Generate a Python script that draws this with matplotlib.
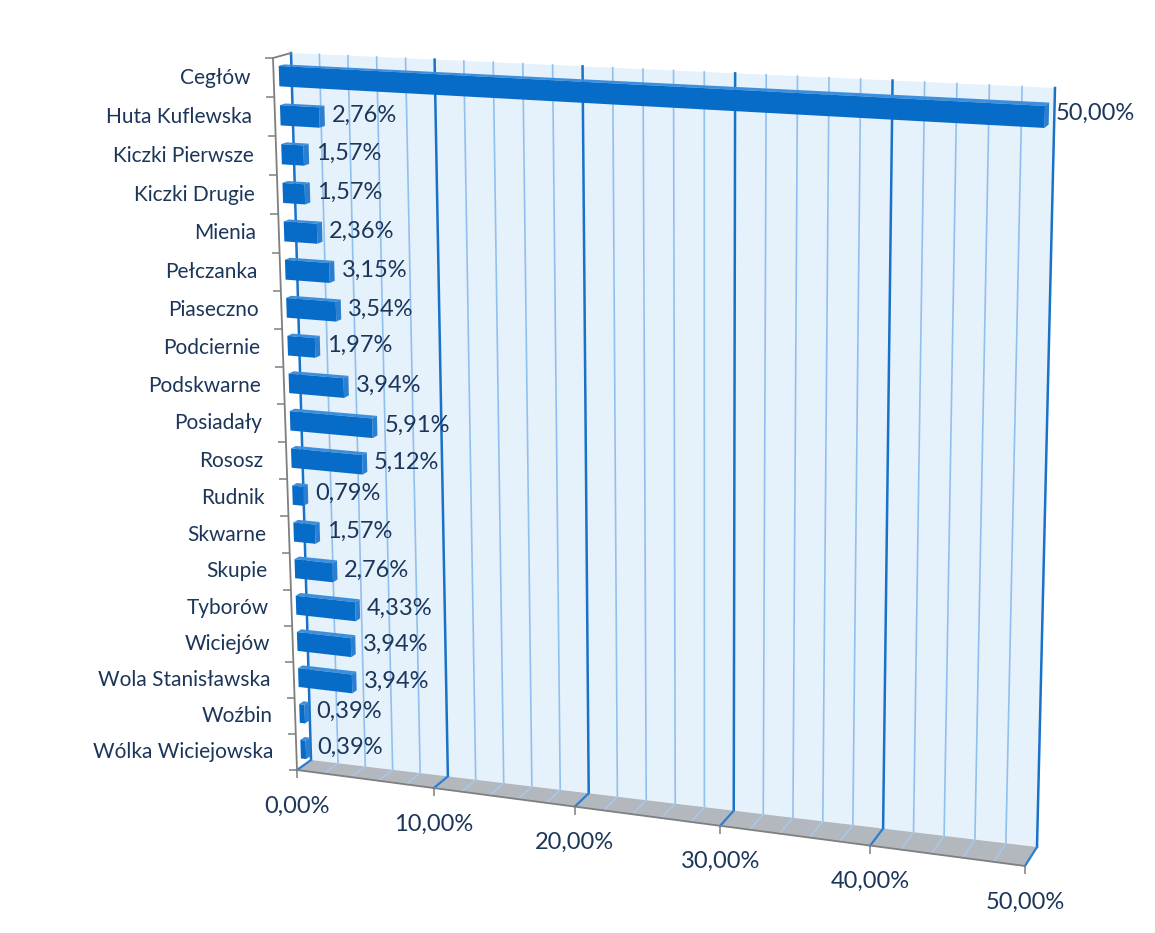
import numpy as np
import matplotlib
matplotlib.use("Agg")
import matplotlib.pyplot as plt
from matplotlib.transforms import Transform, Affine2D
from matplotlib.patches import Polygon
from matplotlib import markers

# data
places = ["Cegłów", "Huta Kuflewska", "Kiczki Pierwsze", "Kiczki Drugie", "Mienia",
          "Pełczanka", "Piaseczno", "Podciernie", "Podskwarne", "Posiadały", "Rososz",
          "Rudnik", "Skwarne", "Skupie", "Tyborów", "Wiciejów", "Wola Stanisławska",
          "Woźbin", "Wólka Wiciejowska"]
shares = [50.00, 2.76, 1.57, 1.57, 2.36, 3.15, 3.54, 1.97, 3.94, 5.91, 5.12,
          0.79, 1.57, 2.76, 4.33, 3.94, 3.94, 0.39, 0.39]
xticks = [0, 10, 20, 30, 40, 50]


def pct(v):
    return f"{v:.2f}".replace(".", ",") + "%"


# perspective box: pixel corners of front and back plane (TL, TR, BR, BL)
FRONT = [(273, 58), (1041, 99), (1025, 866), (297, 770)]
BACK = [(291, 53), (1055, 88), (1037, 847), (311, 760)]
NROWS = len(places)
VMAX = 50


def homography(dst):
    src = [(0, NROWS), (VMAX, NROWS), (VMAX, 0), (0, 0)]
    A, b = [], []
    for (x, y), (X, Y) in zip(src, dst):
        A.append([x, y, 1, 0, 0, 0, -X * x, -X * y]); b.append(X)
        A.append([0, 0, 0, x, y, 1, -Y * x, -Y * y]); b.append(Y)
    h = np.linalg.solve(np.array(A, float), np.array(b, float))
    return np.append(h, 1).reshape(3, 3)


HF = homography(FRONT)
HB = homography(BACK)


def project(v, u, z):
    hom = np.column_stack([v, u, np.ones(len(v))])
    res = []
    for H in (HF, HB):
        q = hom @ H.T
        res.append(q[:, :2] / q[:, 2:3])
    return (1 - z)[:, None] * res[0] + z[:, None] * res[1]


class Proj(Transform):
    # maps two of (value, row, depth) to pixels, the third one held fixed
    input_dims = output_dims = 2

    def __init__(self, fixed, val):
        super().__init__()
        self.fixed = fixed
        self.val = val

    def transform_non_affine(self, pts):
        pts = np.asarray(pts, float).reshape(-1, 2)
        c = np.full(len(pts), float(self.val))
        a, b = pts[:, 0], pts[:, 1]
        if self.fixed == "z":
            return project(a, b, c)
        if self.fixed == "u":
            return project(a, c, b)
        return project(c, a, b)


fig = plt.figure(figsize=(11.55, 9.33), dpi=100)
ax = fig.add_axes([0, 0, 1, 1])
ax.set_xlim(0, 1155)
ax.set_ylim(933, 0)
ax.axis("off")


def T(fixed, val, dx=0, dy=0):
    return Proj(fixed, val) + ax.transData + Affine2D().translate(dx, dy)


TXT = "#1c365a"
FONT = "Lato"

# back wall
ax.add_patch(Polygon([(0, 0), (VMAX, 0), (VMAX, NROWS), (0, NROWS)], closed=True,
                     transform=T("z", 1), fc="#e5f1fb", ec="none", zorder=1))
for v in range(0, VMAX + 1, 2):
    major = v % 10 == 0
    ax.plot([v, v], [0, NROWS], transform=T("z", 1), color="#1a72c8" if major else "#92c0ee",
            lw=1.8 if major else 1.2, zorder=2)

# floor
ax.add_patch(Polygon([(0, 0), (VMAX, 0), (VMAX, 1), (0, 1)], closed=True,
                     transform=T("u", 0), fc="#b3b7be", ec="none", zorder=3))
for v in range(0, VMAX + 1, 2):
    major = v % 10 == 0
    ax.plot([v, v], [0, 1], transform=T("u", 0), color="#2a7fd0" if major else "#a9c9ea",
            lw=1.6 if major else 1.1, zorder=4)

# axis lines
ax.plot([0, 0], [0, NROWS], transform=T("z", 0), color="#7f7f7f", lw=1.3, zorder=5)
ax.plot([0, VMAX], [0, 0], transform=T("z", 0), color="#7f7f7f", lw=1.3, zorder=5)
ax.plot([NROWS, NROWS], [0, 1], transform=T("v", 0), color="#7f7f7f", lw=1.3, zorder=5)
ax.plot(np.zeros(NROWS + 1), np.arange(NROWS + 1), transform=T("z", 0), ls="none",
        marker=markers.TICKLEFT, ms=6, mew=1.1, color="#7f7f7f", zorder=5)
ax.plot(xticks, np.zeros(len(xticks)), transform=T("z", 0), ls="none",
        marker=markers.TICKDOWN, ms=6, mew=1.1, color="#7f7f7f", zorder=5)

# bars
z0, z1, h = 0.3, 0.6, 0.52
for i, (name, s) in enumerate(zip(places, shares)):
    uc = NROWS - i - 0.5
    lo, hi = uc - h / 2, uc + h / 2
    ax.add_patch(Polygon([(0, z0), (s, z0), (s, z1), (0, z1)], closed=True,
                         transform=T("u", hi), fc="#3d8fdc", ec="none", zorder=6))
    ax.add_patch(Polygon([(lo, z0), (hi, z0), (hi, z1), (lo, z1)], closed=True,
                         transform=T("v", s), fc="#2a7fd3", ec="none", zorder=6))
    ax.add_patch(Polygon([(0, lo), (s, lo), (s, hi), (0, hi)], closed=True,
                         transform=T("z", z0), fc="#076cc8", ec="none", zorder=7))
    ax.text(0, uc, name, transform=T("z", 0, dx=-23), ha="right", va="center",
            fontsize=15, family=FONT, color=TXT, zorder=8)
    ax.text(s, uc, pct(s), transform=T("z", z1, dx=7), ha="left", va="center",
            fontsize=17, family=FONT, color=TXT, zorder=8)

for v in xticks:
    ax.text(v, 0, pct(v), transform=T("z", 0, dy=-36), ha="center", va="center",
            fontsize=17, family=FONT, color=TXT, zorder=8)

fig.savefig("out.png", dpi=100, facecolor="white")
